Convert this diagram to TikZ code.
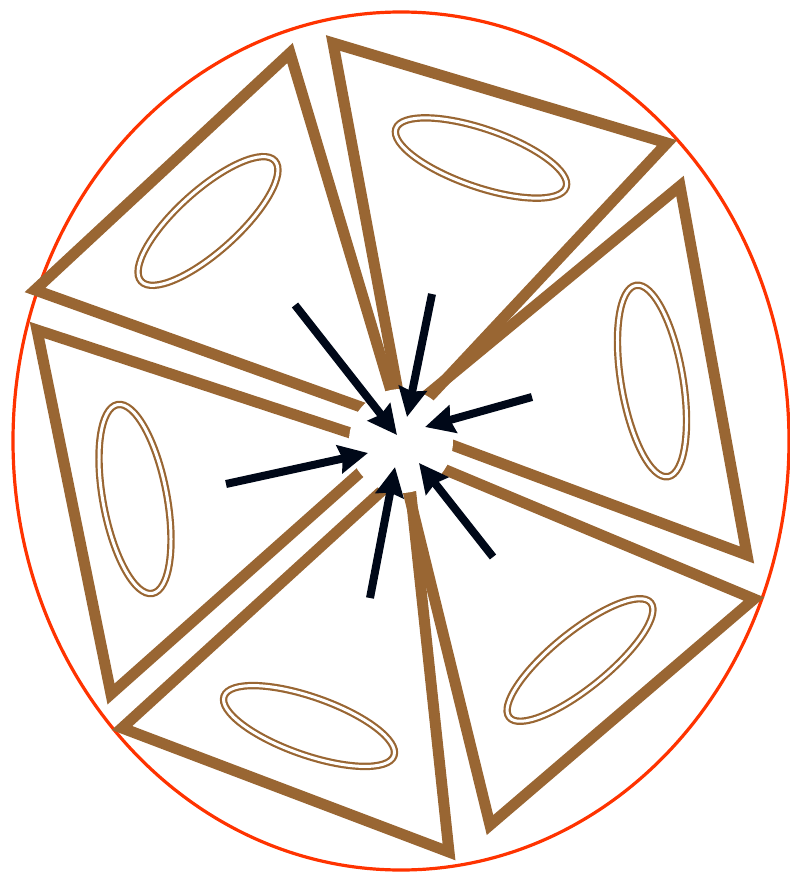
\documentclass[tikz,border=0pt]{standalone}
\usetikzlibrary{arrows.meta}
\definecolor{tribrown}{HTML}{996633}
\definecolor{rimred}{HTML}{FF3300}
\definecolor{arrnavy}{HTML}{000818}
\tikzset{
  tri/.style={draw=tribrown, line width=11pt, line join=miter, miter limit=20},
  ring/.style={draw=tribrown, line width=2.2pt, double=white, double distance=3pt},
  rim/.style={draw=rimred, line width=3.2pt},
  inarrow/.style={draw=arrnavy, line width=8pt, -{Stealth[length=29pt,width=28pt,inset=3pt]}},
  hub/.style={fill=white, draw=none}
}
\begin{document}
\begin{tikzpicture}[x=1pt,y=-1pt]
\useasboundingbox (0,0) rectangle (789,877);
% rim
\draw[rim] (401,441) ellipse [x radius=388, y radius=429];
% triangles
\coordinate (t1a) at (290,53);  \coordinate (t1b) at (35,290);  \coordinate (t1c) at (400,421);
\coordinate (t2a) at (333,43);  \coordinate (t2b) at (667,143); \coordinate (t2c) at (404,424);
\coordinate (t3a) at (680,186); \coordinate (t3b) at (747,555); \coordinate (t3c) at (393,423);
\coordinate (t4a) at (754,599); \coordinate (t4b) at (490,825); \coordinate (t4c) at (398,450);
\coordinate (t5a) at (449,852); \coordinate (t5b) at (122,728); \coordinate (t5c) at (408,467);
\coordinate (t6a) at (37,330);  \coordinate (t6b) at (111,694); \coordinate (t6c) at (390,446);
\foreach \t in {t1,t2,t3,t4,t5,t6}{
  \draw[tri] (\t a) -- (\t b) -- (\t c) -- cycle;
}
% rings
\draw[ring, shift={(208,221)}, rotate=42] (0,0) ellipse [x radius=90, y radius=30.5];
\draw[ring, shift={(481,158)}, rotate=-19] (0,0) ellipse [x radius=90, y radius=29];
\draw[ring, shift={(652,381)}, rotate=99.5] (0,0) ellipse [x radius=97, y radius=31];
\draw[ring, shift={(580,660)}, rotate=39] (0,0) ellipse [x radius=91, y radius=28];
\draw[ring, shift={(309,726)}, rotate=-19.3] (0,0) ellipse [x radius=90, y radius=29];
\draw[ring, shift={(135,499)}, rotate=100.5] (0,0) ellipse [x radius=96, y radius=32];
% hub
\fill[hub] (401,441) circle [radius=52];
% arrows
\coordinate (a1s) at (295,305); \coordinate (a1e) at (397,435);
\coordinate (a2s) at (432,294); \coordinate (a2e) at (407,417);
\coordinate (a3s) at (532,397); \coordinate (a3e) at (425,427);
\coordinate (a4s) at (226,484); \coordinate (a4e) at (368,453);
\coordinate (a5s) at (370,598); \coordinate (a5e) at (395,467);
\coordinate (a6s) at (493,557); \coordinate (a6e) at (419,463);
\foreach \a in {a1,a2,a3,a4,a5,a6}{
  \draw[inarrow] (\a s) -- (\a e);
}
\end{tikzpicture}
\end{document}
